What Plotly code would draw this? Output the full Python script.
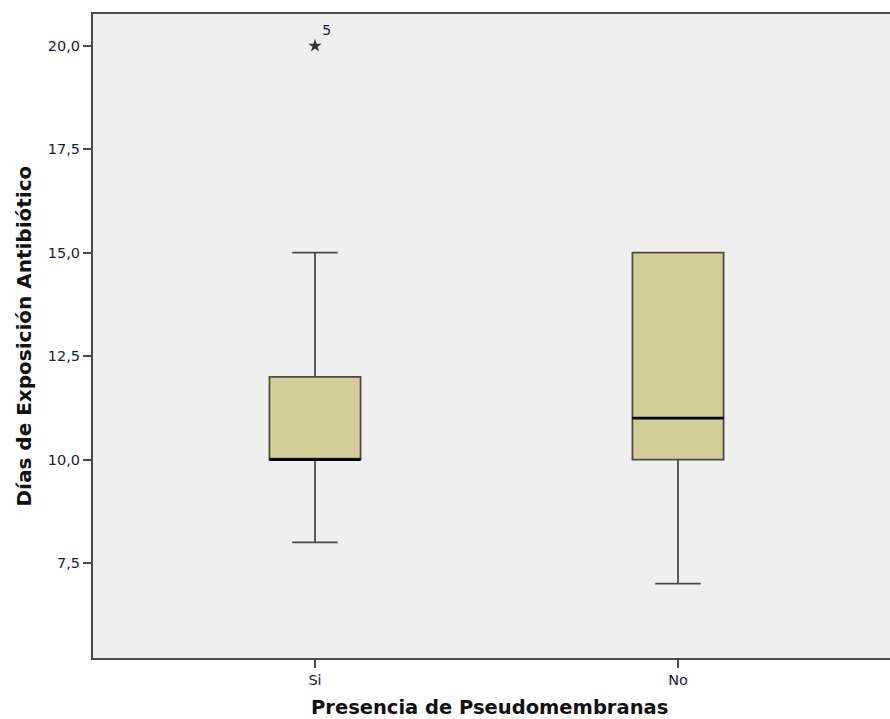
import plotly.graph_objects as go

categories = ["Si", "No"]
q1 = [10.0, 10.0]
median = [10.0, 11.0]
q3 = [12.0, 15.0]
lower_whisker = [8.0, 7.0]
upper_whisker = [15.0, 15.0]
outlier_cat = ["Si"]
outlier_val = [20.0]
outlier_label = ["5"]
y_ticks = [7.5, 10.0, 12.5, 15.0, 17.5, 20.0]
y_ticklabels = ["7,5", "10,0", "12,5", "15,0", "17,5", "20,0"]
x_title = "Presencia de Pseudomembranas"
y_title = "Días de Exposición Antibiótico"

BOX_W = 0.251
FILL = "#D3CE97"
EDGE = "#4a4a4a"
FONT = "DejaVu Sans"
pos = {c: i for i, c in enumerate(categories)}

fig = go.Figure()
for i, c in enumerate(categories):
    fig.add_trace(go.Box(
        x=[pos[c]], q1=[q1[i]], median=[median[i]], q3=[q3[i]],
        lowerfence=[lower_whisker[i]], upperfence=[upper_whisker[i]],
        width=BOX_W, whiskerwidth=0.5, fillcolor=FILL,
        line=dict(color=EDGE, width=1.8), boxpoints=False,
        showlegend=False, hoverinfo="skip"))
    fig.add_trace(go.Scatter(
        x=[pos[c] - BOX_W / 2, pos[c] + BOX_W / 2], y=[median[i], median[i]],
        mode="lines", line=dict(color="black", width=2.8),
        showlegend=False, hoverinfo="skip"))

fig.add_trace(go.Scatter(
    x=[pos[c] for c in outlier_cat], y=outlier_val, mode="markers+text",
    marker=dict(symbol="star", size=10, color="#333333"),
    text=outlier_label, textposition="top right",
    textfont=dict(family=FONT, size=14, color="#1a1a40"),
    showlegend=False, hoverinfo="skip"))

fig.update_layout(
    width=890, height=719,
    margin=dict(l=93, r=0, t=14, b=61),
    paper_bgcolor="white", plot_bgcolor="#EFEFEF",
    font=dict(family=FONT, color="#1a1a40"),
    annotations=[
        dict(text="<b>" + y_title + "</b>", xref="paper", yref="paper",
             x=-0.0872, y=0.5, xanchor="center", yanchor="middle",
             textangle=-90, showarrow=False,
             font=dict(family=FONT, size=20, color="#111111")),
        dict(text="<b>" + x_title + "</b>", xref="paper", yref="paper",
             x=0.498, y=-0.0776, xanchor="center", yanchor="middle",
             showarrow=False,
             font=dict(family=FONT, size=19.5, color="#111111")),
    ],
)
fig.update_xaxes(
    range=[-0.6116, 1.584], tickvals=[0, 1], ticktext=categories,
    ticks="outside", ticklen=8, tickcolor=EDGE, tickwidth=2,
    showline=True, linecolor=EDGE, linewidth=2, mirror=True,
    showgrid=False, zeroline=False,
    tickfont=dict(size=14.5),
)
fig.update_yaxes(
    range=[5.203, 20.77], tickvals=y_ticks, ticktext=y_ticklabels,
    ticks="outside", ticklen=8, tickcolor=EDGE, tickwidth=2,
    showline=True, linecolor=EDGE, linewidth=2,
    showgrid=False, zeroline=False,
    tickfont=dict(size=14.5),
)
fig.write_html(
    "out.html",
    config={"displayModeBar": False},
    post_script="document.body.style.margin='0';document.body.style.overflow='hidden';",
)
